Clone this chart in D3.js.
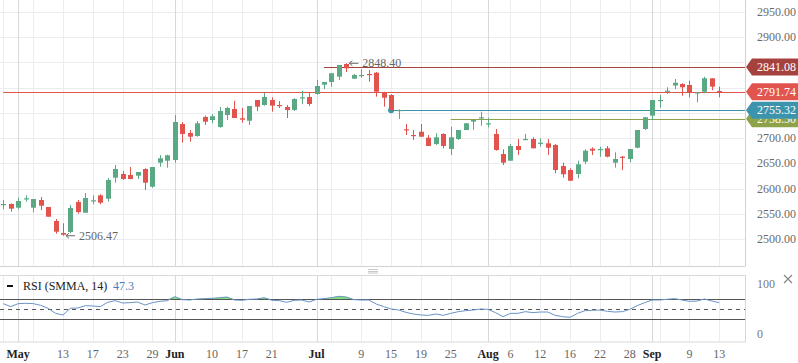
<!DOCTYPE html>
<html>
<head>
<meta charset="utf-8">
<script src="https://cdn.jsdelivr.net/npm/d3@7"></script>
<style>
  body { margin: 0; background: #fff; }
  svg { display: block; font-family: "Liberation Serif", "Times New Roman", serif; }
</style>
</head>
<body>
<svg id="chart" width="798" height="363"></svg>
<script>
// daily candles, 1 May .. 13 Sep (97 bars)
const opens = [2567.4,2569.4,2562.1,2578.7,2562.1,2577.3,2563.4,2535.7,2511.9,2513.9,
  2573.4,2552.1,2575.9,2586.6,2579.9,2621.5,2628.9,2626.9,2625.5,2638.8,
  2603.7,2651.3,2655.2,2656.6,2728.0,2710.2,2704.2,2741.9,2735.9,2722.1,
  2745.8,2757.7,2739.3,2734.5,2775.6,2765.7,2775.6,2765.7,2761.7,2755.8,
  2780.1,2781.5,2787.5,2805.9,2811.3,2821.8,2846.9,2817.8,2823.2,2827.1,
  2829.7,2790.1,2785.5,2754.8,2717.5,2706.2,2712.7,2700.8,2688.3,2708.2,
  2678.4,2698.3,2716.1,2732.6,2740.5,2728.6,2708.2,2668.5,2655.2,2684.4,
  2696.9,2698.3,2690.3,2689.7,2686.4,2644.7,2636.8,2628.9,2653.3,2679.0,
  2677.8,2679.8,2651.3,2663.2,2658.6,2681.0,2718.1,2744.5,2775.0,2792.0,
  2804.3,2807.3,2805.3,2789.5,2792.0,2818.6,2793.5];
const highs = [2577.3,2570.5,2581.9,2586.6,2579.3,2583.3,2563.4,2539.7,2531.1,2567.4,
  2577.3,2591.2,2586.6,2588.6,2620.9,2646.7,2634.8,2642.7,2632.8,2640.2,
  2642.7,2666.5,2667.1,2745.8,2732.0,2716.1,2734.0,2744.5,2747.8,2761.7,
  2762.3,2774.2,2759.7,2763.7,2775.6,2789.5,2780.9,2773.6,2765.7,2779.0,
  2794.0,2790.1,2815.2,2811.3,2828.5,2844.0,2848.4,2827.1,2836.4,2835.1,
  2831.1,2792.0,2786.9,2757.1,2728.0,2716.1,2728.0,2706.2,2709.6,2709.6,
  2722.6,2716.1,2729.4,2737.0,2752.4,2740.5,2718.1,2677.8,2688.3,2698.3,
  2708.2,2701.6,2699.6,2698.3,2688.3,2651.3,2640.2,2655.2,2677.8,2681.8,
  2683.0,2684.4,2671.9,2664.6,2678.4,2716.1,2741.3,2775.6,2785.5,2800.8,
  2817.2,2808.7,2813.8,2790.8,2821.8,2818.6,2802.0];
const lows = [2558.9,2554.1,2558.9,2574.0,2552.9,2557.5,2544.2,2510.5,2506.47,2511.3,
  2550.2,2552.1,2568.8,2568.8,2574.0,2611.6,2617.0,2618.4,2619.0,2597.1,
  2601.7,2643.3,2641.4,2651.3,2690.9,2692.9,2702.8,2726.0,2729.4,2720.7,
  2735.9,2739.9,2730.6,2726.0,2753.8,2764.3,2752.4,2759.7,2739.9,2753.8,
  2767.7,2763.7,2786.1,2797.4,2802.0,2815.2,2831.1,2817.2,2819.8,2811.9,
  2782.1,2762.3,2754.4,2737.9,2706.2,2696.3,2702.8,2684.4,2686.4,2679.8,
  2666.5,2696.3,2716.1,2716.5,2724.6,2721.5,2675.1,2646.7,2655.2,2666.5,
  2696.9,2679.8,2683.0,2666.5,2630.3,2621.5,2615.0,2620.3,2648.7,2666.5,
  2663.2,2662.0,2641.4,2636.8,2652.1,2679.8,2716.1,2735.9,2760.3,2787.5,
  2797.4,2784.1,2780.9,2771.0,2788.9,2795.0,2780.9];
const closes = [2569.4,2560.1,2575.3,2580.7,2579.3,2566.0,2544.2,2514.5,2508.5,2561.5,
  2553.5,2581.3,2576.7,2572.0,2617.0,2638.8,2619.0,2619.0,2632.8,2611.6,
  2642.7,2660.0,2665.9,2732.0,2708.2,2702.8,2729.4,2732.6,2743.3,2753.8,
  2759.7,2739.9,2736.5,2763.7,2762.3,2781.5,2764.3,2764.3,2755.8,2777.6,
  2780.9,2767.7,2803.3,2811.3,2828.5,2845.0,2838.4,2825.1,2825.1,2825.7,
  2792.0,2780.1,2755.3,2755.8,2715.5,2704.2,2702.8,2684.4,2701.6,2684.4,
  2701.6,2716.1,2729.4,2735.9,2741.3,2729.4,2676.5,2651.3,2684.4,2676.5,
  2698.3,2679.8,2690.9,2681.0,2636.8,2628.3,2615.6,2648.1,2675.1,2675.1,
  2678.4,2663.2,2658.6,2662.0,2678.4,2716.1,2741.3,2775.6,2775.6,2794.0,
  2809.7,2800.8,2790.8,2790.8,2818.6,2802.0,2791.7];
const rsi = [61.3,55.3,61.3,62.0,61.3,58.0,52.0,42.0,38.6,52.0,
  52.6,57.3,56.6,55.3,64.0,67.3,62.6,63.3,64.6,58.6,
  63.3,66.0,67.3,75.3,69.3,68.6,70.6,71.3,72.0,73.3,
  74.6,68.6,68.0,70.0,70.6,73.3,68.0,67.3,64.0,68.0,
  68.6,64.6,70.0,71.3,73.3,76.0,74.6,69.3,68.6,68.6,
  60.6,55.3,50.6,48.6,43.9,40.6,38.6,37.9,40.6,37.9,
  41.9,45.3,47.3,48.6,50.6,49.9,43.3,35.3,41.9,41.9,
  45.3,43.3,44.6,44.6,37.9,35.3,33.9,41.9,47.3,47.9,
  48.6,45.9,44.6,45.3,49.9,57.3,63.3,68.6,68.6,70.0,
  71.3,68.6,65.9,66.6,70.6,66.6,63.3];

const priceTicks = [2500,2550,2600,2650,2700,2750,2800,2850,2900,2950];
const tickIdx    = [2,8,12,16,20,23,28,32,36,42,48,52,56,60,65,68,72,76,80,84,87,92,96];
const tickLabels = ['May','13','17','23','29','Jun','10','17','21','Jul','9','15','19','25','Aug','6','12','16','22','28','Sep','9','13'];
const monthLabels = ['May','Jun','Jul','Aug','Sep'];
const extraGridIdx = [0,4,24,44,88];

// horizontal levels: value, first bar
const levelValues = [2738.50, 2755.32, 2791.74, 2841.08];
const levelStart  = [60, 52, 0, 43];
const levelColors = ['#8ea24a', '#3c93ac', '#e2554f', '#a6423e'];

const rsiLevels = [70, 50, 30];
const rsiTicks = [100, 0];

const svg = d3.select('#chart');
const W = 745;
const mainBottom = 266.5;
const green = '#5aa884', red = '#e2534e';

const x = d3.scaleLinear().domain([-0.4425, 99.45]).range([0, W]);
const y = d3.scaleLinear().domain([2445.5, 2973.8]).range([mainBottom, 0]);
const yr = d3.scaleLinear().domain([0, 100]).range([334.3, 284.3]);

// grids
const grid = svg.append('g');
grid.selectAll('.hg').data(priceTicks).enter().append('line')
  .attr('x1', 0).attr('x2', W)
  .attr('y1', d => Math.round(y(d)) + 0.5).attr('y2', d => Math.round(y(d)) + 0.5)
  .attr('stroke', '#ebedf0');
const vIdx = tickIdx.concat(extraGridIdx);
[[0, mainBottom], [275, 342]].forEach(([t, b]) => {
  grid.selectAll(null).data(vIdx).enter().append('line')
    .attr('x1', d => Math.round(x(d)) + 0.5).attr('x2', d => Math.round(x(d)) + 0.5)
    .attr('y1', t).attr('y2', b)
    .attr('stroke', (d, i) => i < tickIdx.length && monthLabels.includes(tickLabels[i]) ? '#d6d8db' : '#ebedf0');
});

// frames
svg.append('line').attr('x1', W + 0.5).attr('x2', W + 0.5).attr('y1', 0).attr('y2', mainBottom).attr('stroke', '#d0d3d6');
svg.append('line').attr('x1', 0).attr('x2', W).attr('y1', mainBottom).attr('y2', mainBottom).attr('stroke', '#d0d3d6');
svg.append('rect').attr('x', -1).attr('y', 275.5).attr('width', W + 1.5).attr('height', 66.5)
  .attr('fill', 'none').attr('stroke', '#d6d8db');

// pane splitter handle
[270.5, 272.5, 274].forEach(v => {
  svg.append('line').attr('x1', 368).attr('x2', 378).attr('y1', v - 1).attr('y2', v - 1).attr('stroke', '#c8c8c8');
});

// level lines
const lv = svg.append('g');
levelValues.forEach((v, k) => {
  lv.append('line')
    .attr('x1', x(levelStart[k])).attr('x2', W)
    .attr('y1', Math.round(y(v)) + 0.5).attr('y2', Math.round(y(v)) + 0.5)
    .attr('stroke', levelColors[k]).attr('stroke-width', 1.2);
});
lv.append('circle').attr('cx', x(levelStart[1])).attr('cy', y(levelValues[1]))
  .attr('r', 3).attr('fill', levelColors[1]);

// candles
const idx = d3.range(opens.length);
const candles = svg.append('g').selectAll('g').data(idx).enter().append('g');
candles.append('line')
  .attr('x1', i => Math.round(x(i)) + 0.5).attr('x2', i => Math.round(x(i)) + 0.5)
  .attr('y1', i => y(highs[i])).attr('y2', i => y(lows[i]))
  .attr('stroke', i => closes[i] >= opens[i] ? green : red);
candles.append('rect')
  .attr('x', i => Math.round(x(i)) - 2)
  .attr('width', 5)
  .attr('y', i => y(Math.max(opens[i], closes[i])))
  .attr('height', i => Math.max(1.2, Math.abs(y(opens[i]) - y(closes[i]))))
  .attr('fill', i => closes[i] >= opens[i] ? green : red);

// high / low annotations
function note(i, v) {
  const ax = x(i) + 3, ay = y(v);
  const g = svg.append('g').attr('stroke', '#666').attr('fill', 'none');
  g.append('path').attr('d', `M${ax},${ay} L${ax + 9},${ay} M${ax + 3},${ay - 2.5} L${ax},${ay} L${ax + 3},${ay + 2.5}`);
  svg.append('text').attr('x', ax + 13).attr('y', ay + 4)
    .attr('font-size', 12).attr('fill', '#666').text(v.toFixed(2));
}
note(46, highs[46]);
note(8, lows[8]);

// price axis labels (the ones covered by a level badge are not shown)
const visibleTicks = priceTicks.filter(t => levelValues.every(v => Math.abs(y(v) - y(t)) > 12));
svg.append('g').selectAll('text').data(visibleTicks).enter().append('text')
  .attr('x', 757).attr('y', d => y(d) + 4)
  .attr('font-size', 12).attr('fill', '#6b6b6b')
  .text(d => d.toFixed(2));

// level badges
levelValues.forEach((v, k) => {
  const cy = y(v), h = 8.5;
  svg.append('path')
    .attr('d', `M746,${cy} L752,${cy - h} L798,${cy - h} L798,${cy + h} L752,${cy + h} Z`)
    .attr('fill', levelColors[k]);
  svg.append('text').attr('x', 757).attr('y', cy + 4.2)
    .attr('font-size', 12).attr('fill', '#fff')
    .text(v.toFixed(2));
});

// RSI pane
const rp = svg.append('g');
rp.append('path').datum(idx)
  .attr('d', d3.area().x(i => x(i)).y0(yr(70)).y1(i => yr(Math.max(70, rsi[i]))))
  .attr('fill', '#7fe07a');
rsiLevels.forEach(v => {
  rp.append('line').attr('x1', 0).attr('x2', W)
    .attr('y1', Math.round(yr(v)) + 0.5).attr('y2', Math.round(yr(v)) + 0.5)
    .attr('stroke', '#555').attr('stroke-width', 1)
    .attr('stroke-dasharray', v === 50 ? '4,4' : null);
});
rp.append('path').datum(idx)
  .attr('d', d3.line().x(i => x(i)).y(i => yr(rsi[i])))
  .attr('fill', 'none').attr('stroke', '#6a93c6').attr('stroke-width', 1);

rp.selectAll('.rt').data(rsiTicks).enter().append('text')
  .attr('x', 757).attr('y', d => yr(d) + 4)
  .attr('font-size', 12).attr('fill', '#777').text(d => d);

// legend
rp.append('line').attr('x1', 7).attr('x2', 13).attr('y1', 286).attr('y2', 286)
  .attr('stroke', '#111').attr('stroke-width', 2);
rp.append('text').attr('x', 23).attr('y', 290).attr('font-size', 12).attr('fill', '#222')
  .text('RSI (SMMA, 14)');
rp.append('text').attr('x', 113).attr('y', 290).attr('font-size', 12).attr('fill', '#4a7bbd')
  .text('47.3');

// close icon
svg.append('path').attr('d', 'M784,275 L792,283 M792,275 L784,283')
  .attr('stroke', '#888').attr('stroke-width', 1.2);

// time axis
svg.append('g').selectAll('text').data(tickIdx).enter().append('text')
  .attr('x', (d, i) => x(d))
  .attr('y', 358)
  .attr('text-anchor', 'middle')
  .attr('font-size', 12)
  .attr('font-weight', (d, i) => monthLabels.includes(tickLabels[i]) ? 'bold' : 'normal')
  .attr('fill', (d, i) => monthLabels.includes(tickLabels[i]) ? '#222' : '#666')
  .text((d, i) => tickLabels[i]);
</script>
</body>
</html>
